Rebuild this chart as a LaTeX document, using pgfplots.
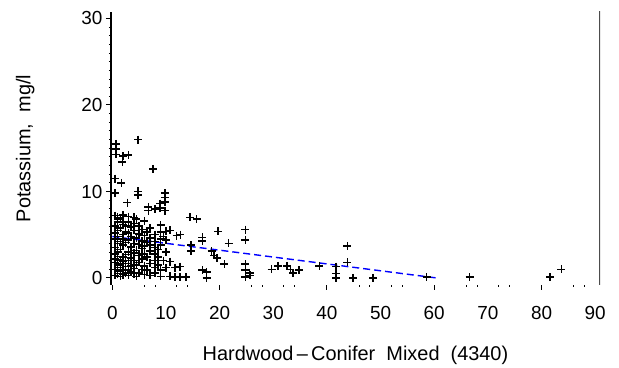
\documentclass[border=0pt]{standalone}
\usepackage{pgfplots}
\pgfplotsset{compat=1.18}
\usepackage{fontspec}
\setmainfont{Liberation Sans}
\begin{document}
\begin{tikzpicture}
\begin{axis}[
  scale only axis, width=489.2bp, height=273bp,
  xmin=-0.25, xmax=90.9, ymin=-0.8, ymax=30.75,
  axis x line*=bottom, axis y line*=left,
  x axis line style={draw=none},
  y axis line style={black, line width=1.5bp},
  tick align=outside,
  /pgf/number format/assume math mode=true,
  tick label style={font=\fontsize{19}{22}\selectfont},
  label style={font=\fontsize{20}{24}\selectfont},
  xtick={0,20,40,60,80}, xticklabels={},
  extra x ticks={0,10,...,90},
  extra x tick style={major tick length=0pt},
  minor xtick={6,8,12,14,26,28,32,34,46,48,52,54,66,68,72,74,86,88},
  major tick length=5bp, minor tick length=2bp,
  every tick/.style={black, line width=1bp},
  ytick={0,10,20,30}, minor ytick={1,...,9,11,12,...,19,21,22,...,29},
  xlabel={Hardwood\,--\,Conifer\ \ Mixed\ \ (4340)},
  ylabel={Potassium,\ \ mg/l},
  xticklabel style={yshift=-18bp},
  xlabel style={yshift=-14bp},
  ylabel style={yshift=40bp},
]
\addplot[only marks, mark=+, mark size=4bp, black, mark options={line width=1.5bp}] table {
x y
0.7 15.5
0.7 14.9
0.7 14.3
2.0 14.1
3.0 14.2
1.9 13.4
4.8 16.0
7.6 12.6
0.5 11.5
1.7 11.0
0.5 9.8
4.8 10.0
4.8 9.6
2.8 8.7
9.8 9.8
9.8 9.3
9.8 8.8
8.9 8.6
8.9 8.1
6.7 8.2
6.7 7.8
8.0 8.0
9.8 7.8
14.5 7.0
15.7 6.8
0.5 0.3
0.5 1.0
0.5 1.8
0.5 2.2
0.5 2.8
0.5 3.5
0.5 4.5
0.5 5.2
0.5 6.0
0.5 7.2
1.0 0.5
1.0 1.2
1.0 1.5
1.0 2.0
1.0 2.5
1.0 3.0
1.0 4.0
1.0 4.8
1.0 5.5
1.0 6.5
1.0 7.0
1.5 0.2
1.5 0.8
1.5 1.6
1.5 2.1
1.5 3.3
1.5 4.2
1.5 5.8
1.5 6.8
2.0 0.4
2.0 1.0
2.0 1.9
2.0 2.4
2.0 3.8
2.0 4.5
2.0 5.0
2.0 6.2
2.0 7.3
2.5 0.6
2.5 1.3
2.5 2.0
2.5 2.7
2.5 4.1
2.5 5.4
2.5 6.0
3.0 0.3
3.0 0.9
3.0 1.7
3.0 3.0
3.0 4.4
3.0 5.2
3.0 6.5
3.0 7.1
3.5 0.7
3.5 1.4
3.5 2.3
3.5 3.6
3.5 4.8
3.5 5.9
4.0 0.5
4.0 1.1
4.0 2.0
4.0 2.9
4.0 4.0
4.0 5.5
4.0 6.3
4.0 7.0
4.5 0.2
4.5 1.5
4.5 3.2
4.5 4.6
4.5 6.8
5.0 0.6
5.0 1.8
5.0 2.6
5.0 3.9
5.0 5.1
5.0 6.0
5.5 1.0
5.5 2.2
5.5 3.4
5.5 4.3
5.5 5.6
6.0 0.4
6.0 1.4
6.0 2.8
6.0 3.7
6.0 4.9
6.0 6.6
6.5 0.9
6.5 2.4
6.5 4.1
6.5 5.3
7.0 0.3
7.0 1.7
7.0 3.1
7.0 3.8
7.0 4.6
7.0 5.8
8.0 0.6
8.0 1.2
8.0 2.0
8.0 2.8
8.0 3.5
8.0 4.2
8.0 5.0
8.5 1.5
8.5 2.4
8.5 3.3
9.0 0.2
9.0 0.9
9.0 3.8
9.0 4.5
9.0 5.3
9.0 6.1
9.5 2.0
9.5 4.8
10.0 1.2
10.0 3.0
10.0 4.4
10.0 5.4
10.8 5.5
12.0 4.9
12.7 5.0
16.8 4.7
16.8 4.3
19.7 5.4
24.8 5.6
24.8 4.4
21.7 4.0
14.7 3.8
14.7 3.1
18.5 3.1
19.0 2.6
19.5 2.3
20.9 1.6
10.8 1.9
11.7 1.2
12.6 1.3
10.8 0.2
11.7 0.1
12.6 0.1
13.7 0.1
16.8 0.9
17.6 0.7
17.6 0.0
24.8 1.6
24.8 0.9
25.6 0.6
24.8 0.1
25.7 0.3
29.7 1.0
30.9 1.4
32.6 1.4
33.2 1.0
33.7 0.6
34.8 0.9
38.6 1.4
41.7 1.3
41.7 0.5
41.7 0.0
43.8 3.7
43.8 1.8
44.9 0.0
48.6 0.0
58.6 0.1
66.6 0.1
81.6 0.1
83.7 1.0
};
\addplot[blue, line width=1.4bp, dash pattern=on 7bp off 4bp] coordinates {(0,4.8) (60.5,0)};
\draw[black!70, line width=1.5bp] (rel axis cs:1,0) -- (rel axis cs:1,1.007);
\end{axis}
\pgfresetboundingbox
\path ([shift={(-111bp,-83bp)}]current axis.south west) rectangle ([shift={(19bp,12bp)}]current axis.north east);
\end{tikzpicture}
\end{document}
